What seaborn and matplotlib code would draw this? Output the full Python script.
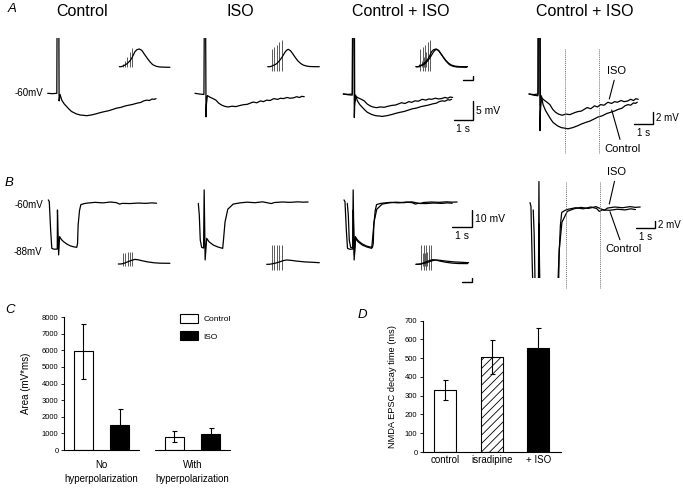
import numpy as np
import pandas as pd
import seaborn as sns
import matplotlib
matplotlib.use("Agg")
import matplotlib.pyplot as plt
from matplotlib.patches import Patch

W, H, DPI = 683, 490, 100

# ---------------- A: whole-cell traces (s, mV) ----------------
A_CTRL_T = [0, 0.25, 0.48, 0.5, 0.58, 0.6, 0.65, 0.74, 0.87, 1.0, 1.13, 1.26, 1.5, 1.7, 1.9, 2.05,
            2.3, 2.55, 2.75, 3.0, 3.2, 3.45, 3.63, 3.85, 4.1, 4.3, 4.49, 4.7, 4.9, 5.05, 5.21,
            5.35, 5.5, 5.6, 5.7]
A_CTRL_V = [-60, -60.1, -60, -30, -30, -62, -60.3, -61.8, -62.8, -63.5, -64.2, -64.8, -65.4, -65.7,
            -65.8, -65.9, -65.7, -65.4, -65.1, -64.8, -64.6, -64.2, -63.9, -63.7, -63.3, -63.1,
            -62.9, -62.6, -62.4, -62.0, -61.8, -61.9, -61.5, -61.6, -61.4]
A_ISO_T = [0, 0.25, 0.47, 0.5, 0.55, 0.58, 0.6, 0.65, 0.78, 0.95, 1.1, 1.25, 1.4, 1.55, 1.74, 1.95,
           2.15, 2.37, 2.55, 2.75, 3.06, 3.25, 3.45, 3.6, 3.77, 3.95, 4.15, 4.35, 4.5, 4.65, 4.85,
           5.0, 5.18, 5.35, 5.5, 5.62, 5.75]
A_ISO_V = [-60, -60.2, -60.3, -30, -30, -66.2, -63, -60.6, -61, -61.4, -61.8, -62.6, -63.1, -63.4,
           -63.6, -63.4, -63.5, -63.2, -63.0, -62.9, -62.3, -62.5, -62.0, -62.2, -61.8, -61.9,
           -61.4, -61.6, -61.3, -61.4, -61.1, -61.3, -61.2, -60.9, -61.1, -60.8, -60.9]

# A insets: EPSP evoked by a train (ms, mV from baseline)
IN_A_CTRL_T = [0, 10, 17, 28, 40, 52, 62, 70, 78, 88, 100, 112, 128, 142, 153, 162, 170, 185,
               203, 230, 253]
IN_A_CTRL_V = [0, 0, 0.3, 0.8, 1.6, 2.8, 4.2, 5.8, 7.5, 8.5, 8.85, 8.2, 5.9, 3.9, 2.5, 1.5, 0.85,
               0.2, -0.15, -0.25, -0.3]
STIM_A_CTRL_T = [17, 28.5, 40, 52, 62]
STIM_A_CTRL_TOP = [1.2, 2.85, 5.0, 7.5, 9.2]
STIM_A_CTRL_BOT = [-0.3, -0.3, -0.3, -0.3, -0.3]
IN_A_ISO_T = [0, 12, 20, 32, 45, 57, 70, 78, 85, 94, 103, 114, 125, 138, 150, 165, 178, 195, 210,
              235, 258]
IN_A_ISO_V = [0, 0, 0.3, 0.8, 1.5, 2.8, 4.5, 5.8, 7.0, 8.2, 8.7, 8.0, 6.5, 4.6, 3.0, 1.6, 0.8, 0.3,
              0.1, 0, 0]
STIM_A_ISO_T = [20, 32.5, 45, 57.5, 70]
STIM_A_ISO_TOP = [8.9, 9.9, 10.9, 12.4, 13.4]
STIM_A_ISO_BOT = [-2, -2, -2, -2, -2]

# ---------------- B: traces with hyperpolarization (s, mV) ----------------
B_CTRL_T = [0, 0.05, 0.12, 0.18, 0.3, 0.46, 0.47, 0.53, 0.58, 0.68, 0.79, 0.95, 1.14, 1.3, 1.46,
            1.5, 1.53, 1.6, 1.67, 1.85, 2.02, 2.4, 2.8, 3.2, 3.5, 3.65, 3.8, 4.2, 4.6, 5.0, 5.3,
            5.55]
B_CTRL_V = [-58.8, -59.8, -76.2, -86.8, -87.3, -87.2, -64.6, -90.6, -80, -81.8, -83, -84.3, -85.4,
            -85.9, -86.2, -84, -73.3, -65, -61.5, -60.9, -60.6, -60.2, -60.5, -60.0, -60.4, -61.2,
            -60.8, -60.9, -60.6, -60.8, -60.5, -60.7]
B_ISO_T = [0.17, 0.22, 0.27, 0.34, 0.44, 0.47, 0.52, 0.6, 0.72, 0.94, 1.17, 1.42, 1.46, 1.54,
           1.68, 1.96, 2.31, 2.67, 3.07, 3.47, 3.77, 3.92, 4.07, 4.47, 4.87, 5.27, 5.55, 5.8]
B_ISO_V = [-60.8, -67.5, -82, -86.2, -86.6, -53, -93.5, -81, -83, -84.9, -86, -86.8, -82, -71.6,
           -64.2, -61.2, -60.5, -60.1, -60.4, -59.9, -60.6, -60.9, -60.3, -60.0, -60.2, -59.9,
           -60.1, -60.0]

IN_B_CTRL_T = [0, 10, 25, 35, 50, 65, 83, 100, 120, 150, 180, 210, 258]
IN_B_CTRL_V = [0, 0, 0.2, 0.6, 1.2, 1.8, 2.3, 2.1, 1.6, 1.0, 0.6, 0.4, 0.35]
STIM_B_CTRL_T = [25, 35.5, 46, 56.5, 67]
STIM_B_CTRL_TOP = [5.3, 5.5, 5.8, 6.0, 6.2]
STIM_B_CTRL_BOT = [-1, -1, -1, -1, -1]
IN_B_ISO_T = [0, 12, 25, 40, 55, 70, 85, 100, 120, 150, 190, 230, 263]
IN_B_ISO_V = [0, 0, 0.2, 0.5, 0.9, 1.4, 1.9, 2.15, 2.0, 1.6, 1.2, 1.0, 0.8]
STIM_B_ISO_T = [25, 37.5, 50, 62.5, 75]
STIM_B_ISO_TOP = [9.6, 9.6, 9.6, 9.6, 9.6]
STIM_B_ISO_BOT = [-2.9, -2.9, -2.9, -2.9, -2.9]

MEASURE_T = [1.9, 3.67]  # dotted measuring lines (s)

# ---------------- C: area ----------------
GROUPS = ["No\nhyperpolarization", "With\nhyperpolarization"]
CONDS = ["Control", "ISO"]
AREA_GROUP = [GROUPS[0], GROUPS[0], GROUPS[1], GROUPS[1]]
AREA_COND = ["Control", "ISO", "Control", "ISO"]
AREA_MEAN = [5950, 1530, 800, 950]
AREA_SEM = [1650, 950, 330, 380]

# ---------------- D: NMDA EPSC decay ----------------
DRUGS = ["control", "isradipine", "+ ISO"]
DECAY_MEAN = [330, 505, 555]
DECAY_SEM = [53, 90, 105]

sns.set_theme(style="white", rc={"axes.edgecolor": "black", "xtick.color": "black",
                                 "ytick.color": "black", "text.color": "black",
                                 "axes.labelcolor": "black", "hatch.color": "black",
                                 "hatch.linewidth": 0.6})
plt.rcParams["font.family"] = ["Liberation Sans", "DejaVu Sans"]

fig = plt.figure(figsize=(W / DPI, H / DPI), dpi=DPI, facecolor="white")


def px_axes(box):
    l, t, r, b = box
    return fig.add_axes([l / W, 1 - b / H, (r - l) / W, (b - t) / H])


def trace_axes(box, origin, kx, ky, v_ref=-60.0):
    # box in pixels (left, top, right, bottom); origin = pixel of (t=0, v_ref)
    ax = px_axes(box)
    l, t, r, b = box
    ox, oy = origin
    ax.set_xlim((l - ox) / kx, (r - ox) / kx)
    ax.set_ylim(v_ref - (b - oy) / ky, v_ref + (oy - t) / ky)
    ax.set_axis_off()
    return ax


def px2data(ax, x, y):
    return ax.transData.inverted().transform((x, H - y))


def draw_trace(ax, t, v, lw=0.9):
    sns.lineplot(x=t, y=v, ax=ax, color="black", lw=lw, sort=False, estimator=None)


def scale_bar(ax, corner, dt, dv, tlabel=None, vlabel=None, fs=7.5, lw=1.0):
    x, y = px2data(ax, *corner)
    ax.plot([x - dt, x, x], [y, y, y + dv], color="black", lw=lw, clip_on=False,
            solid_joinstyle="miter")
    if vlabel:
        ax.annotate(vlabel, (x, y + dv / 2), xytext=(2.5, 0), textcoords="offset points",
                    ha="left", va="center", fontsize=fs)
    if tlabel:
        ax.annotate(tlabel, (x - dt / 2, y), xytext=(0, -3), textcoords="offset points",
                    ha="center", va="top", fontsize=fs)


def inset(box, origin, traces, stims):
    ax = trace_axes(box, origin, 0.2, 2.0, v_ref=0.0)
    for (st, top, bot) in stims:
        ax.vlines(st, bot, top, colors="0.35", lw=0.7)
    for (t, v) in traces:
        draw_trace(ax, t, v, lw=0.9)
    return ax


def measure_lines(ax, y_top, y_bot):
    _, v0 = px2data(ax, 0, y_top)
    _, v1 = px2data(ax, 0, y_bot)
    ax.vlines(MEASURE_T, v1, v0, colors="0.45", linestyles=(0, (1, 1)), lw=0.7, clip_on=False)


def arrow_label(ax, text, target, text_pos, fs=8):
    ax.annotate(text, px2data(ax, *target), xytext=px2data(ax, *text_pos), textcoords="data",
                ha="center", va="center", fontsize=fs,
                arrowprops=dict(arrowstyle="-", lw=0.8, color="black", shrinkA=1, shrinkB=0))


A_CTRL = (A_CTRL_T, A_CTRL_V)
A_ISO = (A_ISO_T, A_ISO_V)
B_CTRL = (B_CTRL_T, B_CTRL_V)
B_ISO = (B_ISO_T, B_ISO_V)
SA_CTRL = (STIM_A_CTRL_T, STIM_A_CTRL_TOP, STIM_A_CTRL_BOT)
SA_ISO = (STIM_A_ISO_T, STIM_A_ISO_TOP, STIM_A_ISO_BOT)
SB_CTRL = (STIM_B_CTRL_T, STIM_B_CTRL_TOP, STIM_B_CTRL_BOT)
SB_ISO = (STIM_B_ISO_T, STIM_B_ISO_TOP, STIM_B_ISO_BOT)

# ---- row A ----
a1 = trace_axes((40, 38, 185, 160), (47.7, 93.3), 19, 3.8)
draw_trace(a1, *A_CTRL)
a2 = trace_axes((188, 38, 335, 160), (195, 93.3), 19, 3.8)
draw_trace(a2, *A_ISO)
a3 = trace_axes((338, 38, 500, 160), (343.3, 94), 19, 3.8)
draw_trace(a3, *A_CTRL)
draw_trace(a3, *A_ISO)
scale_bar(a3, (473, 120), 1, 5, "1 s", "5 mV")
a4 = trace_axes((522, 38, 683, 160), (529, 94), 19, 5.9)
draw_trace(a4, *A_CTRL)
draw_trace(a4, *A_ISO)
measure_lines(a4, 48, 153)
scale_bar(a4, (653, 124), 1, 2, "1 s", "2 mV", fs=7)
arrow_label(a4, "ISO", (609.3, 99), (616.7, 70.7))
arrow_label(a4, "Control", (611.7, 110), (622.7, 149))

ia1 = inset((112, 38, 180, 80), (119.3, 66.7), [(IN_A_CTRL_T, IN_A_CTRL_V)], [SA_CTRL])
ia2 = inset((260, 36, 330, 80), (267.7, 66.7), [(IN_A_ISO_T, IN_A_ISO_V)], [SA_ISO])
ia3 = inset((410, 36, 480, 85), (416, 66.7),
            [(IN_A_CTRL_T, IN_A_CTRL_V), (IN_A_ISO_T, IN_A_ISO_V)], [SA_CTRL, SA_ISO])
scale_bar(ia3, (473, 80), 50, 2, lw=1.0)

# ---- row B ----
b1 = trace_axes((40, 172, 185, 300), (48.3, 202), 19.5, 1.73)
draw_trace(b1, *B_CTRL)
b2 = trace_axes((188, 172, 335, 300), (195, 202), 19.5, 1.73)
draw_trace(b2, *B_ISO)
b3 = trace_axes((338, 172, 500, 300), (344, 202), 19.5, 1.73)
draw_trace(b3, *B_CTRL)
draw_trace(b3, *B_ISO)
scale_bar(b3, (471.7, 227.3), 1, 10, "1 s", "10 mV")
b4 = trace_axes((522, 172, 683, 278), (530, 207), 19, 3.65)
draw_trace(b4, *B_CTRL)
draw_trace(b4, *B_ISO)
measure_lines(b4, 181.7, 288)
scale_bar(b4, (655, 228.3), 1, 2, "1 s", "2 mV", fs=7)
arrow_label(b4, "ISO", (609.3, 204), (616.7, 171.7))
arrow_label(b4, "Control", (610, 211.7), (623.3, 249.3))

ib1 = inset((112, 240, 180, 285), (118.3, 264), [(IN_B_CTRL_T, IN_B_CTRL_V)], [SB_CTRL])
ib2 = inset((260, 240, 330, 285), (266.7, 264.3), [(IN_B_ISO_T, IN_B_ISO_V)], [SB_ISO])
ib3 = inset((410, 240, 480, 290), (416, 264.3),
            [(IN_B_CTRL_T, IN_B_CTRL_V), (IN_B_ISO_T, IN_B_ISO_V)], [SB_CTRL, SB_ISO])
scale_bar(ib3, (471.7, 281.7), 50, 2, lw=1.0)

# titles and labels of the trace rows
for x, s in [(82, "Control"), (240, "ISO"), (401, "Control + ISO"), (585, "Control + ISO")]:
    fig.text(x / W, 1 - 11 / H, s, ha="center", va="center", fontsize=11.5)
fig.text(43 / W, 1 - 93 / H, "-60mV", ha="right", va="center", fontsize=7)
fig.text(43 / W, 1 - 205 / H, "-60mV", ha="right", va="center", fontsize=7)
fig.text(42 / W, 1 - 252 / H, "-88mV", ha="right", va="center", fontsize=7)
for x, y, s in [(12, 9, "A"), (9, 183, "B"), (10, 310, "C"), (362, 315, "D")]:
    fig.text(x / W, 1 - y / H, s, ha="center", va="center", fontsize=9.5, style="italic")

# ---- C ----
area = pd.DataFrame({"group": AREA_GROUP, "cond": AREA_COND, "area": AREA_MEAN, "sem": AREA_SEM})
axc = px_axes((64, 317, 230, 450))
sns.barplot(data=area, x="group", y="area", hue="cond", palette={"Control": "white", "ISO": "black"},
            edgecolor="black", linewidth=0.8, gap=0.48, errorbar=None, legend=False, ax=axc)
bars = sorted(axc.patches, key=lambda p: p.get_x())
axc.errorbar([p.get_x() + p.get_width() / 2 for p in bars], [p.get_height() for p in bars],
             yerr=area["sem"], fmt="none", ecolor="black", elinewidth=0.8, capsize=1.8, capthick=0.8)
axc.set_ylim(0, 8000)
axc.set_yticks(range(0, 8001, 1000))
axc.set_xlim(-0.41, len(GROUPS) - 0.59)
sns.despine(ax=axc, bottom=True)
for i in range(len(GROUPS)):
    axc.plot([i - 0.41, i + 0.41], [0, 0], color="black", lw=0.8, clip_on=False)
axc.spines["left"].set_linewidth(0.8)
axc.tick_params(axis="y", left=True, direction="out", length=2.5, width=0.6, labelsize=5.5, pad=1.5)
axc.tick_params(axis="x", length=0, pad=7, labelsize=7)
for lbl in axc.get_xticklabels():
    lbl.set_linespacing(1.5)
axc.set_xlabel("")
axc.set_ylabel("Area (mV*ms)", fontsize=7, labelpad=8)
fig.legend(handles=[Patch(facecolor="white", edgecolor="black", lw=0.8, label="Control"),
                    Patch(facecolor="black", edgecolor="black", lw=0.8, label="ISO")],
           loc="upper left", bbox_to_anchor=(180 / W, 1 - 314 / H), frameon=False, fontsize=6,
           handlelength=2.2, handleheight=1.2, handletextpad=0.6, labelspacing=1.0,
           borderpad=0, borderaxespad=0)

# ---- D ----
axd = px_axes((423, 320.7, 561, 452))
sns.barplot(x=DRUGS, y=DECAY_MEAN, hue=DRUGS, palette=["white", "white", "black"],
            edgecolor="black", linewidth=0.8, width=0.48, errorbar=None, legend=False, ax=axd)
dbars = sorted(axd.patches, key=lambda p: p.get_x())
dbars[1].set_hatch("////")
axd.errorbar([p.get_x() + p.get_width() / 2 for p in dbars], [p.get_height() for p in dbars],
             yerr=DECAY_SEM, fmt="none", ecolor="black", elinewidth=0.8, capsize=1.8, capthick=0.8)
axd.set_ylim(0, 700)
axd.set_yticks(range(0, 701, 100))
axd.set_xlim(-0.48, len(DRUGS) - 0.51)
sns.despine(ax=axd)
for s in ("left", "bottom"):
    axd.spines[s].set_linewidth(0.8)
axd.tick_params(axis="y", left=True, direction="out", length=2.5, width=0.6, labelsize=5.5, pad=1.5)
axd.tick_params(axis="x", length=0, pad=2, labelsize=7)
axd.set_ylabel("NMDA EPSC decay time (ms)", fontsize=6.7, labelpad=6)

fig.savefig("out.png", dpi=DPI, facecolor="white")
